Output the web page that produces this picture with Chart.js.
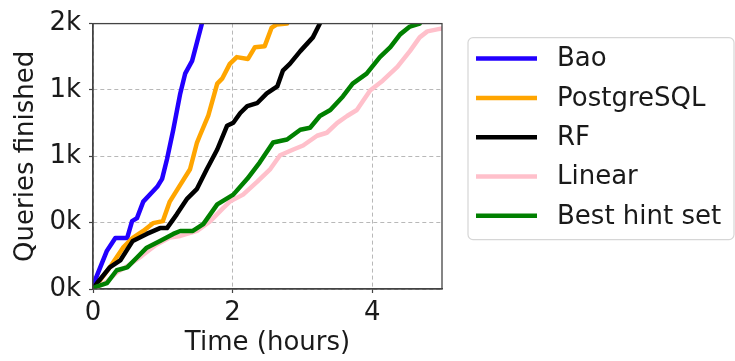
<!DOCTYPE html>
<html>
<head>
<meta charset="utf-8">
<script src="https://cdn.jsdelivr.net/npm/chart.js@4/dist/chart.umd.min.js"></script>
<style>
html,body{margin:0;padding:0;background:#fff;}
#wrap{position:relative;width:735px;height:361px;}
</style>
</head>
<body>
<div id="wrap"><canvas id="c" width="735" height="361"></canvas></div>
<script>
// ---- data (hours, queries finished) ----
const seriesNames = ["Bao", "PostgreSQL", "RF", "Linear", "Best hint set"];
const seriesColors = ["#2200ff", "#ffa500", "#000000", "#ffc0cb", "#008000"];

const baoX = [0, 0.03, 0.2, 0.32, 0.49, 0.56, 0.63, 0.72, 0.92, 0.99, 1.06, 1.15, 1.25, 1.32, 1.42, 1.56];
const baoY = [0, 53, 231, 308, 308, 409, 427, 527, 616, 664, 782, 960, 1179, 1298, 1375, 1600];

const pgX = [0, 0.03, 0.24, 0.43, 0.57, 0.72, 0.86, 1.0, 1.1, 1.25, 1.39, 1.49, 1.53, 1.65, 1.78, 1.85, 1.96, 2.06, 2.22, 2.32, 2.46, 2.56, 2.63, 2.78];
const pgY = [0, 12, 130, 249, 308, 350, 397, 409, 527, 628, 722, 883, 924, 1043, 1238, 1268, 1357, 1398, 1387, 1458, 1464, 1576, 1594, 1600];

const rfX = [0, 0.06, 0.24, 0.39, 0.57, 0.77, 0.96, 1.06, 1.2, 1.35, 1.49, 1.63, 1.78, 1.92, 2.01, 2.11, 2.21, 2.35, 2.49, 2.64, 2.72, 2.82, 2.97, 3.15, 3.25];
const rfY = [0, 36, 130, 172, 290, 332, 367, 367, 450, 545, 604, 722, 841, 984, 1002, 1061, 1102, 1120, 1179, 1221, 1316, 1357, 1434, 1517, 1600];

const linX = [0, 0.1, 0.2, 0.34, 0.5, 0.7, 0.9, 1.1, 1.25, 1.49, 1.68, 1.86, 1.96, 2.15, 2.35, 2.54, 2.68, 2.87, 3.01, 3.21, 3.35, 3.5, 3.64, 3.78, 3.97, 4.15, 4.36, 4.54, 4.68, 4.79, 4.93, 5.0];
const linY = [0, 20, 45, 100, 140, 200, 265, 310, 320, 350, 409, 486, 527, 569, 646, 723, 806, 841, 865, 924, 942, 1002, 1043, 1079, 1197, 1256, 1339, 1434, 1517, 1553, 1565, 1570];

const bestX = [0, 0.03, 0.2, 0.34, 0.49, 0.63, 0.77, 0.96, 1.15, 1.25, 1.43, 1.58, 1.78, 2.01, 2.21, 2.39, 2.58, 2.78, 2.97, 3.11, 3.25, 3.4, 3.58, 3.72, 3.92, 4.11, 4.26, 4.4, 4.54, 4.68];
const bestY = [0, 12, 36, 113, 130, 190, 249, 290, 332, 350, 350, 391, 510, 569, 664, 764, 883, 901, 960, 972, 1043, 1079, 1161, 1238, 1298, 1398, 1458, 1535, 1582, 1600];

const xTicks = [0, 2, 4];
const yTicks = [0, 400, 800, 1200, 1600];

const seriesX = [baoX, pgX, rfX, linX, bestX];
const seriesY = [baoY, pgY, rfY, linY, bestY];

const FONT = "'DejaVu Sans', sans-serif";

const datasets = seriesNames.map((name, i) => ({
  label: name,
  data: seriesX[i].map((x, j) => ({x: x, y: seriesY[i][j]})),
  borderColor: seriesColors[i],
  backgroundColor: seriesColors[i],
  borderWidth: 4.5,
  pointRadius: 0,
  tension: 0,
  fill: false,
  borderJoinStyle: 'round',
  borderCapStyle: 'round',
  order: seriesNames.length - i
}));

const framePlugin = {
  id: 'frame',
  afterDatasetsDraw(chart) {
    const a = chart.chartArea, ctx = chart.ctx;
    ctx.save();
    ctx.setLineDash([]);
    ctx.strokeStyle = '#444';
    ctx.lineWidth = 1.3;
    ctx.strokeRect(a.left, a.top, a.right - a.left, a.bottom - a.top);
    ctx.restore();
  }
};

const legendPlugin = {
  id: 'boxLegend',
  afterDraw(chart) {
    const a = chart.chartArea, ctx = chart.ctx;
    const bx = a.right + 26, by = a.top + 14, bw = 266, bh = 202, r = 5;
    ctx.save();
    ctx.setLineDash([]);
    ctx.beginPath();
    ctx.moveTo(bx + r, by);
    ctx.lineTo(bx + bw - r, by);
    ctx.arcTo(bx + bw, by, bx + bw, by + r, r);
    ctx.lineTo(bx + bw, by + bh - r);
    ctx.arcTo(bx + bw, by + bh, bx + bw - r, by + bh, r);
    ctx.lineTo(bx + r, by + bh);
    ctx.arcTo(bx, by + bh, bx, by + bh - r, r);
    ctx.lineTo(bx, by + r);
    ctx.arcTo(bx, by, bx + r, by, r);
    ctx.closePath();
    ctx.fillStyle = 'rgba(255,255,255,0.9)';
    ctx.fill();
    ctx.strokeStyle = '#d6d6d6';
    ctx.lineWidth = 1.2;
    ctx.stroke();
    chart.data.datasets.forEach((ds, i) => {
      const y = by + 21 + i * 39.3;
      ctx.beginPath();
      ctx.moveTo(bx + 8, y);
      ctx.lineTo(bx + 69, y);
      ctx.strokeStyle = ds.borderColor;
      ctx.lineWidth = 4.5;
      ctx.lineCap = 'butt';
      ctx.stroke();
      ctx.fillStyle = '#1a1a1a';
      ctx.font = "26px " + FONT;
      ctx.textAlign = 'left';
      ctx.textBaseline = 'middle';
      ctx.fillText(ds.label, bx + 89, y + 1);
    });
    ctx.restore();
  }
};

const gridOpts = {
  color: '#b8b8b8', lineWidth: 1,
  drawTicks: true, tickLength: 4, tickColor: '#444', tickBorderDash: [], tickWidth: 1.2
};
const borderOpts = { display: true, color: '#444', width: 1.3, dash: [4, 3] };

new Chart(document.getElementById('c'), {
  type: 'line',
  data: { datasets: datasets },
  options: {
    responsive: false,
    animation: false,
    devicePixelRatio: 1,
    layout: { padding: { left: 0, top: 19, right: 293, bottom: 0 } },
    plugins: { legend: { display: false }, tooltip: { enabled: false } },
    scales: {
      x: {
        type: 'linear',
        min: 0, max: 5,
        afterBuildTicks(axis) { axis.ticks = xTicks.map(v => ({value: v})); },
        afterFit(scale) { scale.height = 72; },
        grid: gridOpts,
        border: borderOpts,
        ticks: {
          padding: 5, color: '#1a1a1a', maxRotation: 0,
          font: { family: FONT, size: 26 },
          callback: v => String(v)
        },
        title: {
          display: true, text: 'Time (hours)', color: '#1a1a1a',
          font: { family: FONT, size: 26 }, padding: { top: 0, bottom: 2 }
        }
      },
      y: {
        type: 'linear',
        min: 0, max: 1600,
        afterBuildTicks(axis) { axis.ticks = yTicks.map(v => ({value: v})); },
        afterFit(scale) { scale.width = 93; },
        grid: gridOpts,
        border: borderOpts,
        ticks: {
          padding: 8, color: '#1a1a1a',
          font: { family: FONT, size: 26 },
          callback: v => (v / 1000).toFixed(0) + 'k'
        },
        title: {
          display: true, text: 'Queries finished', color: '#1a1a1a',
          font: { family: FONT, size: 26 }, padding: { top: 11, bottom: 0 }
        }
      }
    }
  },
  plugins: [framePlugin, legendPlugin]
});
</script>
</body>
</html>
